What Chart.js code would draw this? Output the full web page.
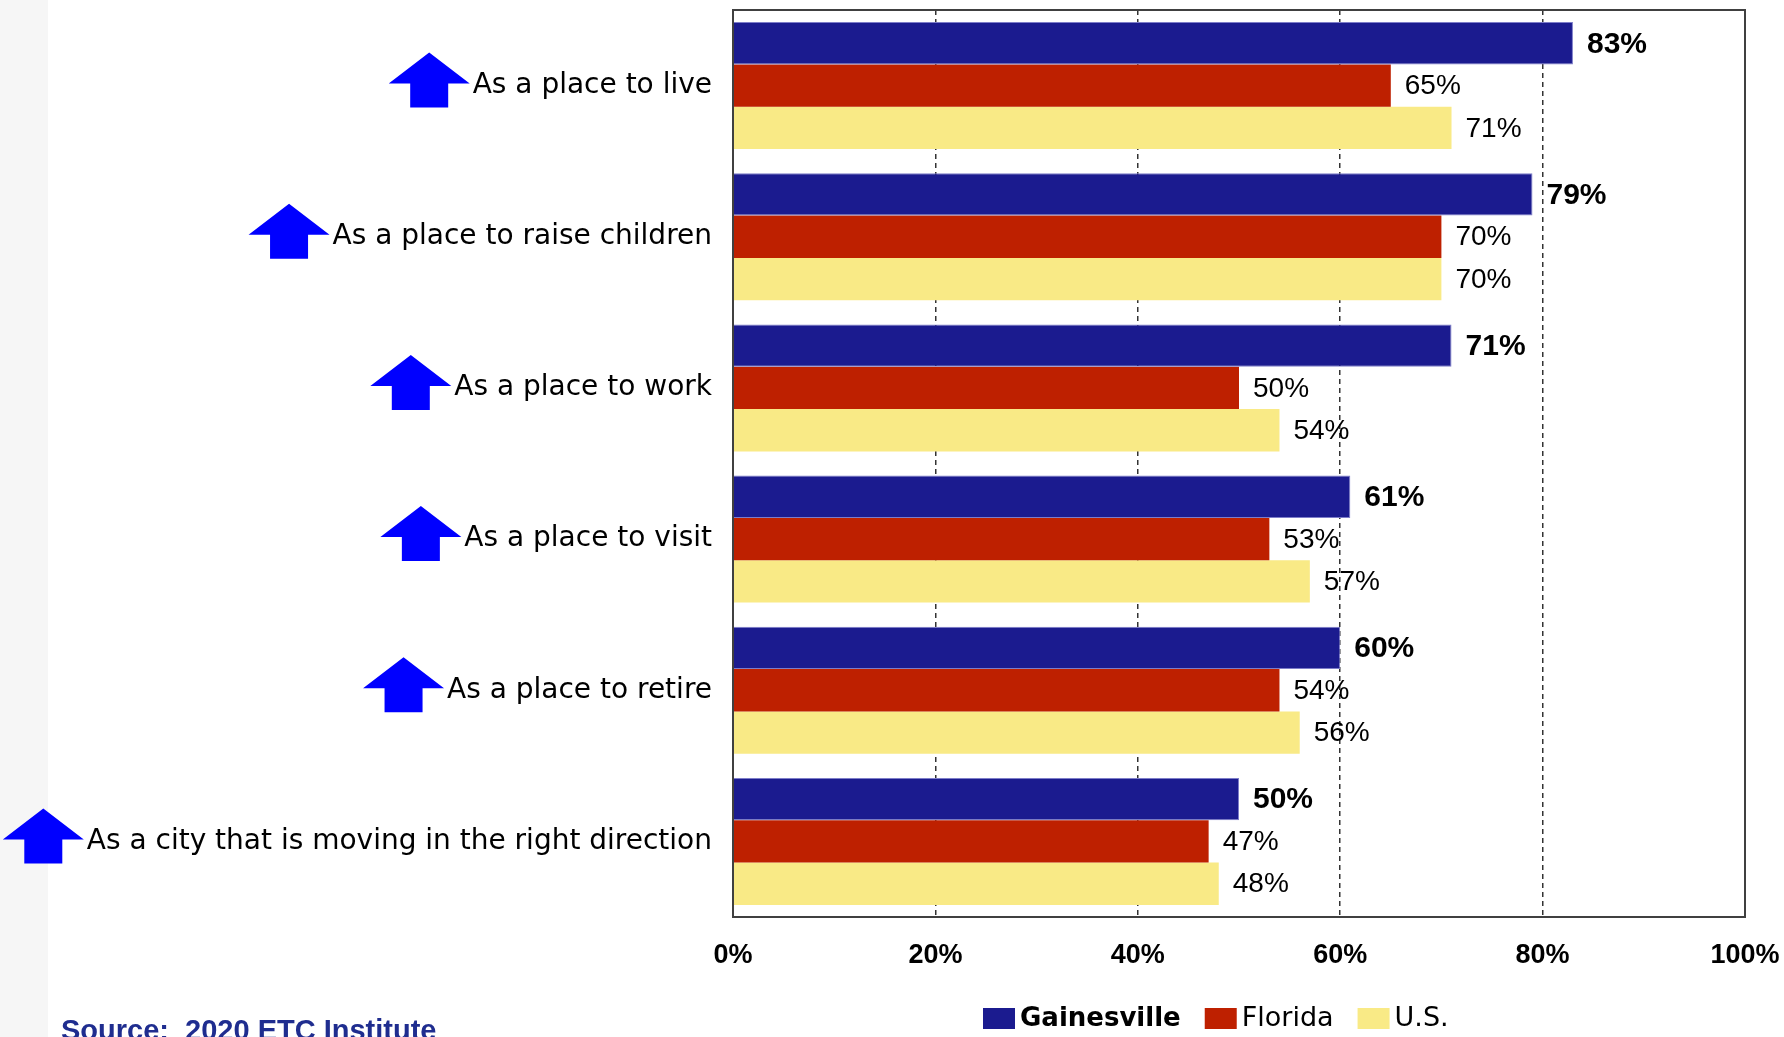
<!DOCTYPE html>
<html>
<head>
<meta charset="utf-8">
<script src="https://cdn.jsdelivr.net/npm/chart.js@4.4.1/dist/chart.umd.min.js"></script>
<style>
  html, body { margin: 0; padding: 0; background: #fff; }
  #wrap { position: relative; width: 1784px; height: 1037px; overflow: hidden; }
  #strip { position: absolute; left: 0; top: 0; width: 48px; height: 1037px; background: #f6f6f6; }
  canvas { position: absolute; left: 0; top: 0; }
</style>
</head>
<body>
<div id="wrap">
  <div id="strip"></div>
  <canvas id="chart" width="1784" height="1037"></canvas>
</div>
<script>
// Data
var categories = [
  'As a place to live',
  'As a place to raise children',
  'As a place to work',
  'As a place to visit',
  'As a place to retire',
  'As a city that is moving in the right direction'
]
var seriesNames = ['Gainesville', 'Florida', 'U.S.']
var gainesville = [83, 79, 71, 61, 60, 50]
var florida = [65, 70, 50, 53, 54, 47]
var us = [71, 70, 54, 57, 56, 48]
var xTickLabels = ['0%', '20%', '40%', '60%', '80%', '100%']
var sourceText = 'Source:  2020 ETC Institute'

var colors = {
  blue: '#1b1b8f',
  red: '#be2000',
  yellow: '#f9ea86',
  arrow: '#0000ff',
  grid: '#333333',
  frame: '#404040',
  source: '#1f2d8f'
}

var catFont = '28px "DejaVu Sans"'
var labelPad = 21

// drop the extra room Chart.js keeps for overhanging tick labels
function noPadding(s) {
  s.paddingLeft = 0
  s.paddingRight = 0
  s.paddingTop = 0
  s.paddingBottom = 0
}

// value labels at the end of each bar
var valueLabels = {
  id: 'valueLabels',
  afterDatasetsDraw: function (chart) {
    var ctx = chart.ctx
    ctx.save()
    ctx.fillStyle = '#000'
    ctx.textAlign = 'left'
    ctx.textBaseline = 'middle'
    chart.data.datasets.forEach(function (ds, di) {
      var meta = chart.getDatasetMeta(di)
      ctx.font = di == 0 ? 'bold 30px "Liberation Sans"' : '28px "Liberation Sans"'
      meta.data.forEach(function (bar, i) {
        ctx.fillText(ds.data[i] + '%', bar.x + 14, bar.y + 1)
      })
    })
    ctx.restore()
  }
}

// frame round the plot area
var frame = {
  id: 'frame',
  afterDatasetsDraw: function (chart) {
    var a = chart.chartArea
    var ctx = chart.ctx
    ctx.save()
    ctx.strokeStyle = colors.frame
    ctx.lineWidth = 2
    ctx.strokeRect(a.left, a.top, a.right - a.left, a.bottom - a.top)
    ctx.restore()
  }
}

// blue arrows, legend and source line
var extras = {
  id: 'extras',
  afterDraw: function (chart) {
    var ctx = chart.ctx
    var y = chart.scales.y
    var a = chart.chartArea
    ctx.save()

    // arrows left of the category labels
    ctx.font = catFont
    ctx.fillStyle = colors.arrow
    categories.forEach(function (c, i) {
      var yc = y.getPixelForValue(i)
      var x0 = a.left - labelPad - ctx.measureText(c).width - 3
      var w = 81
      var cx = x0 - w / 2
      ctx.beginPath()
      ctx.moveTo(cx, yc - 33)
      ctx.lineTo(x0, yc - 2)
      ctx.lineTo(cx + 19, yc - 2)
      ctx.lineTo(cx + 19, yc + 22)
      ctx.lineTo(cx - 19, yc + 22)
      ctx.lineTo(cx - 19, yc - 2)
      ctx.lineTo(x0 - w, yc - 2)
      ctx.closePath()
      ctx.fill()
    })

    // legend
    var lx = 983
    var ly = 1018
    ctx.textAlign = 'left'
    ctx.textBaseline = 'middle'
    chart.data.datasets.forEach(function (ds, di) {
      ctx.fillStyle = ds.backgroundColor
      ctx.fillRect(lx, ly - 10, 32, 21)
      ctx.font = di == 0 ? 'bold 26px "DejaVu Sans"' : '27px "DejaVu Sans"'
      ctx.fillStyle = '#000'
      ctx.fillText(ds.label, lx + 37, ly + 1)
      lx += 37 + ctx.measureText(ds.label).width + 24
    })

    // source
    ctx.font = 'bold 29px "Liberation Sans"'
    ctx.fillStyle = colors.source
    ctx.textBaseline = 'alphabetic'
    ctx.fillText(sourceText, 61, 1040)

    ctx.restore()
  }
}

var ctx = document.getElementById('chart').getContext('2d')

var chart = new Chart(ctx, {
  type: 'bar',
  data: {
    labels: categories,
    datasets: [{
      label: seriesNames[0],
      data: gainesville,
      backgroundColor: colors.blue,
      borderColor: '#7d7dc9',
      borderWidth: 1
    }, {
      label: seriesNames[1],
      data: florida,
      backgroundColor: colors.red
    }, {
      label: seriesNames[2],
      data: us,
      backgroundColor: colors.yellow
    }]
  },
  options: {
    indexAxis: 'y',
    responsive: false,
    animation: false,
    categoryPercentage: 0.84,
    barPercentage: 1.0,
    layout: {
      padding: { top: 10, right: 39, left: 0, bottom: 0 }
    },
    plugins: {
      legend: { display: false },
      tooltip: { enabled: false }
    },
    scales: {
      x: {
        min: 0,
        max: 100,
        ticks: {
          stepSize: 20,
          padding: 22,
          color: '#000',
          font: { family: 'Liberation Sans', size: 27, weight: 'bold' },
          callback: function (v, i) { return xTickLabels[i] }
        },
        grid: {
          drawTicks: false,
          lineWidth: 1.5,
          color: function (c) {
            return (c.tick && (c.tick.value == 0 || c.tick.value == 100)) ? 'rgba(0,0,0,0)' : colors.grid
          }
        },
        border: { display: false, dash: [5, 4] },
        afterFit: function (s) {
          s.height = 120
          noPadding(s)
        }
      },
      y: {
        ticks: {
          padding: labelPad,
          color: '#000',
          font: { family: 'DejaVu Sans', size: 28 }
        },
        grid: { display: false, drawTicks: false },
        border: { display: false },
        afterFit: function (s) {
          s.width = 733
          noPadding(s)
        }
      }
    }
  },
  plugins: [valueLabels, frame, extras]
})
</script>
</body>
</html>
